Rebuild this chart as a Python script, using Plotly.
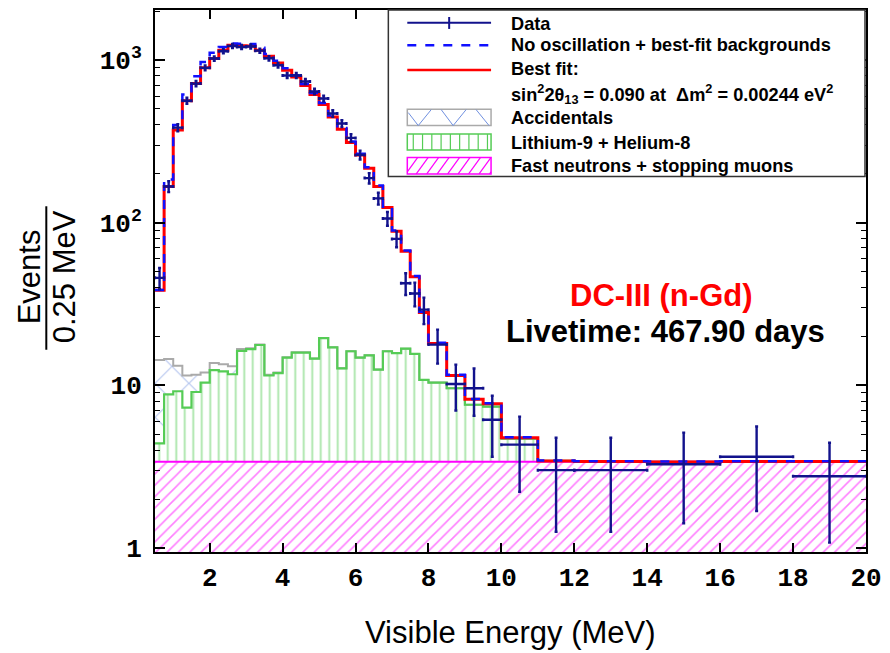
import plotly.graph_objects as go

# ---------------- data ----------------
bin_edges = [0.5, 0.75, 1.0, 1.25, 1.5, 1.75, 2.0, 2.25, 2.5, 2.75, 3.0, 3.25, 3.5, 3.75,
             4.0, 4.25, 4.5, 4.75, 5.0, 5.25, 5.5, 5.75, 6.0, 6.25, 6.5, 6.75, 7.0, 7.25,
             7.5, 7.75, 8.0, 8.5, 9.0, 9.5, 10.0, 11.0, 12.0, 14.0, 16.0, 18.0, 20.0]

data_vals = [45.8, 167, 384, 562, 716, 895, 1021, 1132, 1220, 1203,
             1210, 1142, 1025, 929, 803, 803, 738, 641, 580, 469,
             407, 332, 261, 188, 141, 106, 79.5, 42.4, 36.7, 29.2,
             17.8, 10.2, 9.6, 6.14, 4.32, 3.01, 3.01, 3.27, 3.64, 2.76]
data_errs = [6.8, 12.9, 19.6, 23.7, 26.8, 29.9, 32.0, 33.6, 34.9, 34.7,
             34.8, 33.8, 32.0, 30.5, 28.3, 28.3, 27.2, 25.3, 24.1, 21.7,
             20.2, 18.2, 16.2, 13.7, 11.9, 10.3, 8.9, 6.5, 6.1, 5.4,
             4.2, 3.2, 3.1, 2.5, 2.1, 1.75, 1.75, 1.85, 1.95, 1.68]

best_fit = [38.4, 167, 372, 562, 716, 895, 1021, 1148, 1231, 1225,
            1220, 1150, 1055, 960, 865, 785, 697, 614, 533, 447,
            375, 311, 261, 216, 167, 124, 88.5, 66.8, 46.5, 28.0,
            18.1, 11.5, 8.2, 7.7, 4.77, 3.43, 3.40, 3.38, 3.40, 3.40]
no_osc = [38.6, 184, 399, 614, 796, 973, 1109, 1203, 1265, 1260,
          1255, 1190, 1090, 990, 890, 805, 713, 628, 545, 456,
          382, 316, 265, 219, 169, 125.5, 89.5, 67.5, 47.0, 28.3,
          18.3, 11.6, 8.25, 7.75, 4.8, 3.45, 3.42, 3.40, 3.42, 3.42]

fast_neutrons = [3.39, 3.39, 3.39, 3.39, 3.39, 3.39, 3.39, 3.39, 3.39, 3.39,
                 3.39, 3.39, 3.39, 3.39, 3.39, 3.39, 3.39, 3.39, 3.39, 3.39,
                 3.39, 3.39, 3.39, 3.39, 3.39, 3.39, 3.39, 3.39, 3.39, 3.39,
                 3.39, 3.39, 3.39, 3.39, 3.39, 3.39, 3.39, 3.39, 3.39, 3.39]
lithium = [1.01, 5.41, 5.81, 3.91, 5.71, 7.01, 9.01, 8.81, 8.31, 12.91,
           13.31, 14.31, 8.11, 8.51, 11.41, 12.51, 12.51, 11.21, 16.11, 13.71,
           9.31, 12.81, 11.41, 11.91, 9.11, 12.81, 12.41, 13.41, 12.21, 7.41,
           7.01, 6.21, 4.21, 4.01, 1.31, 0.04, 0.0, 0.0, 0.0, 0.0]
accidentals = [9.9, 5.7, 4.0, 4.2, 2.5, 1.6, 1.3, 1.3, 1.4, 0.4,
               0.2, 0.15, 0.1, 0.1, 0.08, 0.06, 0.05, 0.04, 0.03, 0.02,
               0.02, 0.01, 0.01, 0.0, 0.0, 0.0, 0.0, 0.0, 0.0, 0.0,
               0.0, 0.0, 0.0, 0.0, 0.0, 0.0, 0.0, 0.0, 0.0, 0.0]

x_tick_vals = [2, 4, 6, 8, 10, 12, 14, 16, 18, 20]
y_tick_vals = [1, 10, 100, 1000]
y_tick_text = ["1", "10", "10<sup>2</sup>", "10<sup>3</sup>"]

# ---------------- derived binning ----------------
centers = [(a + b) / 2 for a, b in zip(bin_edges[:-1], bin_edges[1:])]
widths = [b - a for a, b in zip(bin_edges[:-1], bin_edges[1:])]
half_w = [w / 2 for w in widths]
green_top = [f + l for f, l in zip(fast_neutrons, lithium)]
grey_top = [g + a for g, a in zip(green_top, accidentals)]


def steps(vals):
    return list(bin_edges), list(vals) + [vals[-1]]


NAVY = "#12128c"
RED = "#ff0000"
BLUE = "#1010ff"
GREEN = "#55cc55"
GREY = "#aaaaaa"
XBLUE = "#7090e0"
MAG = "#ff00ff"

fig = go.Figure()

# stacked background histograms (pattern fills)
fig.add_trace(go.Bar(x=centers, y=fast_neutrons, width=widths,
                     marker=dict(color="rgba(255,255,255,0)", line=dict(width=0),
                                 pattern=dict(shape="/", fgcolor=MAG, bgcolor="rgba(255,255,255,0)",
                                              size=8, solidity=0.2, fillmode="overlay")),
                     showlegend=False, hoverinfo="skip"))
fig.add_trace(go.Bar(x=centers, y=lithium, width=widths,
                     marker=dict(color="rgba(255,255,255,0)", line=dict(width=0),
                                 pattern=dict(shape="|", fgcolor=GREEN, bgcolor="rgba(255,255,255,0)",
                                              size=8.5, solidity=0.22, fillmode="overlay")),
                     showlegend=False, hoverinfo="skip"))
fig.add_trace(go.Bar(x=centers, y=accidentals, width=widths,
                     marker=dict(color="rgba(255,255,255,0)", line=dict(width=0),
                                 pattern=dict(shape="x", fgcolor=XBLUE, bgcolor="rgba(255,255,255,0)",
                                              size=24, solidity=0.1, fillmode="overlay")),
                     showlegend=False, hoverinfo="skip"))

# outlines of the stack
sx, sy = steps(grey_top)
fig.add_trace(go.Scatter(x=sx, y=sy, mode="lines", line=dict(color=GREY, width=2, shape="hv"),
                         showlegend=False, hoverinfo="skip"))
sx, sy = steps(green_top)
fig.add_trace(go.Scatter(x=sx, y=sy, mode="lines", line=dict(color=GREEN, width=2.2, shape="hv"),
                         showlegend=False, hoverinfo="skip"))
sx, sy = steps(fast_neutrons)
fig.add_trace(go.Scatter(x=sx, y=sy, mode="lines", line=dict(color=MAG, width=2, shape="hv"),
                         showlegend=False, hoverinfo="skip"))

# predictions
sx, sy = steps(best_fit)
fig.add_trace(go.Scatter(x=sx, y=sy, mode="lines", line=dict(color=RED, width=3, shape="hv"),
                         showlegend=False))
sx, sy = steps(no_osc)
fig.add_trace(go.Scatter(x=sx, y=sy, mode="lines", line=dict(color=BLUE, width=2.5, shape="hv", dash="dash"),
                         showlegend=False))

# data
fig.add_trace(go.Scatter(x=centers, y=data_vals, mode="markers",
                         marker=dict(color=NAVY, size=2),
                         error_x=dict(type="data", array=half_w, color=NAVY, thickness=2.4, width=1.5),
                         error_y=dict(type="data", array=data_errs, color=NAVY, thickness=2.4, width=1.5),
                         showlegend=False))

# ---------------- layout ----------------
L, R, T, B = 155, 868, 8, 552
W, H = R - L, B - T


def PX(x):
    return (x - L) / W


def PY(y):
    return (B - y) / H


tickfont = dict(family="Liberation Mono", size=26, color="black", weight="bold")

fig.update_layout(
    width=890, height=653,
    margin=dict(l=L, r=890 - R, t=T, b=653 - B),
    paper_bgcolor="white", plot_bgcolor="white",
    barmode="stack", bargap=0,
    showlegend=False,
    xaxis=dict(range=[0.5, 20], tickvals=x_tick_vals, ticks="inside", ticklen=9, tickwidth=1.5,
               tickcolor="black", showline=True, linewidth=2, linecolor="black", mirror="ticks",
               showgrid=False, zeroline=False, tickfont=tickfont, ticklabelstandoff=1),
    yaxis=dict(type="log", range=[-0.0245, 3.3075], tickvals=y_tick_vals, ticktext=y_tick_text,
               ticks="inside", ticklen=10, tickwidth=1.5, tickcolor="black",
               showline=True, linewidth=2, linecolor="black", mirror="ticks",
               showgrid=False, zeroline=False, tickfont=tickfont, ticklabelstandoff=6,
               minor=dict(tickvals=[2, 3, 4, 5, 6, 7, 8, 9, 20, 30, 40, 50, 60, 70, 80, 90,
                                    200, 300, 400, 500, 600, 700, 800, 900, 2000],
                          ticks="inside", ticklen=5, tickwidth=1.2, tickcolor="black")),
)

annotations = []
shapes = []

# axis titles
annotations.append(dict(xref="paper", yref="paper", x=PX(511), y=PY(633), text="Visible Energy (MeV)",
                        showarrow=False, font=dict(family="Liberation Sans", size=31, color="black"),
                        xanchor="center", yanchor="middle"))
annotations.append(dict(xref="paper", yref="paper", x=PX(29), y=PY(276), text="Events", textangle=-90,
                        showarrow=False, font=dict(family="Liberation Sans", size=31, color="black"),
                        xanchor="center", yanchor="middle"))
annotations.append(dict(xref="paper", yref="paper", x=PX(64), y=PY(276), text="0.25 MeV", textangle=-90,
                        showarrow=False, font=dict(family="Liberation Sans", size=31, color="black"),
                        xanchor="center", yanchor="middle"))
shapes.append(dict(type="line", xref="paper", yref="paper", x0=PX(46), x1=PX(46), y0=PY(205), y1=PY(349),
                   line=dict(color="black", width=2)))

# in-plot labels
annotations.append(dict(xref="paper", yref="paper", x=PX(663), y=PY(295), text="<b>DC-III (n-Gd)</b>",
                        showarrow=False, font=dict(family="Liberation Sans", size=31, color=RED),
                        xanchor="center", yanchor="middle"))
annotations.append(dict(xref="paper", yref="paper", x=PX(667), y=PY(331), text="<b>Livetime: 467.90 days</b>",
                        showarrow=False, font=dict(family="Liberation Sans", size=31, color="black"),
                        xanchor="center", yanchor="middle"))

# legend box
shapes.append(dict(type="rect", xref="paper", yref="paper", x0=PX(389), x1=PX(867), y0=PY(175), y1=PY(8),
                   fillcolor="white", line=dict(color="#333333", width=1.5), layer="above"))

sx0, sx1 = 408, 492
# Data sample
shapes.append(dict(type="line", xref="paper", yref="paper", x0=PX(sx0), x1=PX(sx1), y0=PY(20.7), y1=PY(20.7),
                   line=dict(color=NAVY, width=2)))
shapes.append(dict(type="line", xref="paper", yref="paper", x0=PX(450), x1=PX(450), y0=PY(15), y1=PY(27),
                   line=dict(color=NAVY, width=2)))
# No oscillation sample
shapes.append(dict(type="line", xref="paper", yref="paper", x0=PX(sx0), x1=PX(sx1), y0=PY(43.3), y1=PY(43.3),
                   line=dict(color=BLUE, width=2.5, dash="dash")))
# Best fit sample
shapes.append(dict(type="line", xref="paper", yref="paper", x0=PX(sx0), x1=PX(sx1), y0=PY(68.3), y1=PY(68.3),
                   line=dict(color=RED, width=2.5)))

# Accidentals swatch
ay0, ay1 = 107.5, 124
shapes.append(dict(type="rect", xref="paper", yref="paper", x0=PX(sx0), x1=PX(sx1), y0=PY(ay1), y1=PY(ay0),
                   line=dict(color=GREY, width=1.5), fillcolor="white"))
for (xa, ya, xb, yb) in [(409, 111, 419, 124), (419, 124, 432, 108), (442, 108, 454, 124),
                         (454, 124, 467, 108), (477, 108, 490, 124)]:
    shapes.append(dict(type="line", xref="paper", yref="paper", x0=PX(xa), x1=PX(xb), y0=PY(ya), y1=PY(yb),
                       line=dict(color=XBLUE, width=1)))

# Lithium swatch
ly0, ly1 = 132.5, 148.5
shapes.append(dict(type="rect", xref="paper", yref="paper", x0=PX(sx0), x1=PX(sx1), y0=PY(ly1), y1=PY(ly0),
                   line=dict(color=GREEN, width=1.5), fillcolor="white"))
xv = 414
while xv < sx1 - 2:
    shapes.append(dict(type="line", xref="paper", yref="paper", x0=PX(xv), x1=PX(xv), y0=PY(ly1), y1=PY(ly0),
                       line=dict(color=GREEN, width=1.2)))
    xv += 9.3

# Fast neutrons swatch
fy0, fy1 = 156, 172.5
shapes.append(dict(type="rect", xref="paper", yref="paper", x0=PX(sx0), x1=PX(sx1), y0=PY(fy1), y1=PY(fy0),
                   line=dict(color=MAG, width=1.5), fillcolor="white"))
run = 12.0
xs = sx0 - run
while xs < sx1:
    xa, ya = xs, fy1
    xb, yb = xs + run, fy0
    if xa < sx0:
        t = (sx0 - xa) / run
        xa, ya = sx0, fy1 - t * (fy1 - fy0)
    if xb > sx1:
        t = (xb - sx1) / run
        xb, yb = sx1, fy0 + t * (fy1 - fy0)
    if xb > xa:
        shapes.append(dict(type="line", xref="paper", yref="paper", x0=PX(xa), x1=PX(xb), y0=PY(ya), y1=PY(yb),
                           line=dict(color=MAG, width=1.2)))
    xs += 10.5

# legend texts
legfont = dict(family="Liberation Sans", size=18.2, color="black")
tx = 510
for txt, yy in [("<b>Data</b>", 21.7),
                ("<b>No oscillation + best-fit backgrounds</b>", 43.5),
                ("<b>Best fit:</b>", 67.5),
                ("<b>sin<sup>2</sup>2θ<sub>13</sub> = 0.090 at  Δm<sup>2</sup> = 0.00244 eV<sup>2</sup></b>", 92),
                ("<b>Accidentals</b>", 116.7),
                ("<b>Lithium-9 + Helium-8</b>", 141.5),
                ("<b>Fast neutrons + stopping muons</b>", 164.5)]:
    annotations.append(dict(xref="paper", yref="paper", x=PX(tx), y=PY(yy), text=txt, showarrow=False,
                            font=legfont, xanchor="left", yanchor="middle"))

fig.update_layout(annotations=annotations, shapes=shapes)

fig.write_html("out.html")
